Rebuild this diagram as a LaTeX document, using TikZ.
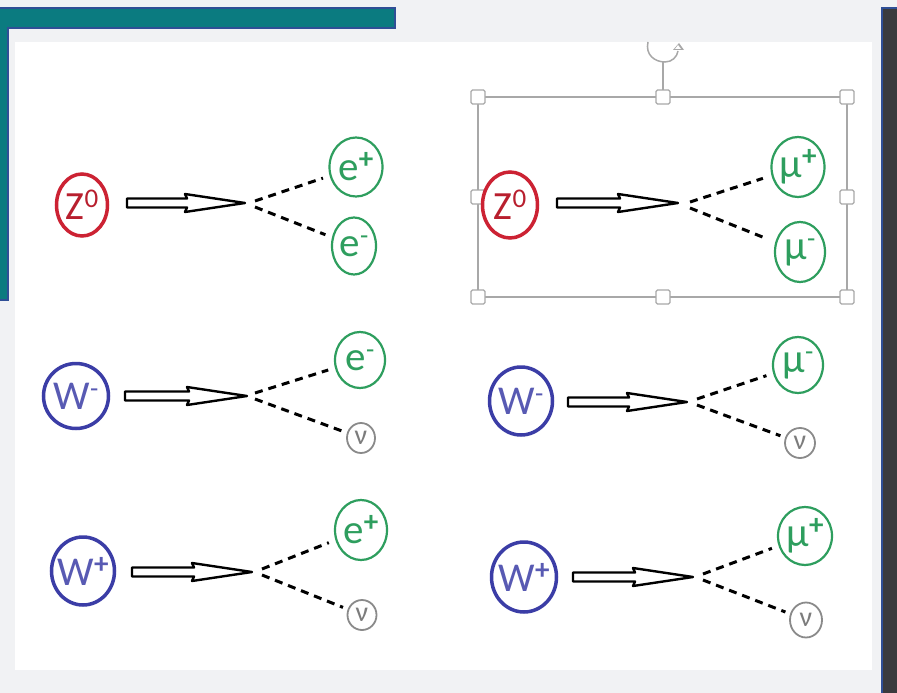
\documentclass[tikz,border=0pt]{standalone}
\usepackage{fontspec}
\setmainfont{Carlito}
\usetikzlibrary{shapes.geometric,calc}
\definecolor{bg}{HTML}{F1F2F4}
\definecolor{teal0}{HTML}{0B7B80}
\definecolor{edgeblue}{HTML}{2F4F96}
\definecolor{darkbar}{HTML}{3A3B3E}
\definecolor{zred}{HTML}{CC2233}
\definecolor{wblue}{HTML}{3B3DA6}
\definecolor{lgreen}{HTML}{2E9E5E}
\definecolor{ngray}{HTML}{8A8A8A}
\definecolor{selgray}{HTML}{A8A8A8}
\newcommand\supr[1]{\raisebox{12pt}{\fontsize{27}{27}\selectfont #1}}
\newcommand\supp{\raisebox{12pt}{\fontsize{29}{29}\selectfont\bfseries +}}
\newcommand\ptl[7]{\node[#6, minimum width=#4pt, minimum height=#5pt, label={[#6lab]center:#7}] (#1) at (#2,#3) {};}
\newcommand\harrow[2]{\draw[hollow] let \p1=(#1),\p2=(#2) in
  (\x1,\y1+4.5pt) -- (\x2-58pt,\y1+4.5pt) -- (\x2-60pt,\y1+9pt) -- (\x2,\y1)
  -- (\x2-60pt,\y1-9pt) -- (\x2-58pt,\y1-4.5pt) -- (\x1,\y1-4.5pt) -- cycle;}
\tikzset{
  particle/.style={ellipse, inner sep=0pt, fill=white},
  zb/.style={particle, draw=zred, line width=3.5pt},
  zblab/.style={text=zred!90!black, font=\fontsize{40}{40}\selectfont},
  wb/.style={particle, draw=wblue, line width=3.5pt},
  wblab/.style={text=wblue!85!white, font=\fontsize{41}{41}\selectfont},
  lep/.style={particle, draw=lgreen, line width=2.2pt},
  leplab/.style={text=lgreen, font=\fontsize{41}{41}\selectfont},
  nu/.style={particle, draw=ngray, line width=1.8pt},
  nulab/.style={text=ngray!90!black, font=\fontsize{28}{28}\selectfont},
  hollow/.style={draw=black, fill=white, line width=2.4pt, line join=round},
  dashln/.style={draw=black, line width=3pt, dash pattern=on 8pt off 6pt},
  handle/.style={draw=selgray, fill=white, line width=1.3pt, rounded corners=1.5pt}
}
\begin{document}
\begin{tikzpicture}[x=1pt,y=-1pt]
\useasboundingbox (0,0) rectangle (897,693);
% backgrounds
\fill[bg] (0,0) rectangle (897,693);
\fill[white] (15,42) rectangle (872,670);
\draw[fill=teal0, draw=edgeblue, line width=1.5pt]
  (-2,8) -- (395,8) -- (395,28) -- (8,28) -- (8,300) -- (-2,300) -- cycle;
\draw[fill=darkbar, draw=edgeblue, line width=1.5pt] (882,8) rectangle (900,700);
% selection box with rotation handle
\draw[selgray, line width=1.3pt] (478,97) rectangle (847,297);
\draw[selgray, line width=1.3pt] (663,62) -- (663,97);
\draw[selgray, line width=1.5pt] (648,42) .. controls (645,55) and (655,62) .. (665,62)
  .. controls (672,62) and (677,57) .. (678,51);
\fill[selgray] (673,50) -- (684,50) -- (679,43) -- cycle;
\fill[white] (675,49) -- (681,49) -- (678,45) -- cycle;
\foreach \hx/\hy in {478/97,663/97,847/97,478/197,847/197,478/297,663/297,847/297}
  \draw[handle] (\hx-7,\hy-7) rectangle (\hx+7,\hy+7);
% ---- diagram A: Z0 -> e+ e-
\ptl{za}{82}{205}{51}{62}{zb}{Z\supr{0}}
\ptl{ea1}{356}{167}{53}{59}{lep}{e\supp}
\ptl{ea2}{354}{246}{44}{57}{lep}{e\supr{-}}
\coordinate (sa) at (127,203); \coordinate (ta) at (245,203); \coordinate (va) at (255,204);
\harrow{sa}{ta}
\draw[dashln, shorten >=7pt] ($(va)+(0,-3)$) -- (ea1);
\draw[dashln, shorten >=7pt] ($(va)+(0,3)$) -- (ea2);
% ---- diagram B: Z0 -> mu+ mu-
\ptl{zb2}{510}{205}{55}{66}{zb}{Z\supr{0}}
\ptl{mb1}{798}{167}{53}{60}{lep}{μ\supp}
\ptl{mb2}{800}{252}{50}{60}{lep}{μ\supr{-}}
\coordinate (sb) at (557,203); \coordinate (tb) at (678,203); \coordinate (vb) at (690,205);
\harrow{sb}{tb}
\draw[dashln, shorten >=9pt] ($(vb)+(0,-3)$) -- (mb1);
\draw[dashln, shorten >=9pt] ($(vb)+(0,3)$) -- (mb2);
% ---- diagram C: W- -> e- nu
\ptl{wc}{76}{396}{65}{65}{wb}{W\supr{-}}
\ptl{ec}{360}{360}{50}{56}{lep}{e\supr{-}}
\ptl{nc}{361}{438}{28}{30}{nu}{ν}
\coordinate (sc) at (125,396); \coordinate (tc) at (247,396); \coordinate (vc) at (255,396);
\harrow{sc}{tc}
\draw[dashln, shorten >=7pt] ($(vc)+(0,-3)$) -- (ec);
\draw[dashln, shorten >=5pt] ($(vc)+(0,3)$) -- (nc);
% ---- diagram D: W+ -> e+ nu
\ptl{wd}{83}{571}{63}{68}{wb}{W\supp}
\ptl{ed}{361}{530}{52}{60}{lep}{e\supp}
\ptl{nd}{362}{615}{29}{30}{nu}{ν}
\coordinate (sd) at (132,572); \coordinate (td) at (252,572); \coordinate (vd) at (262,572);
\harrow{sd}{td}
\draw[dashln, shorten >=7pt] ($(vd)+(0,-3)$) -- (ed);
\draw[dashln, shorten >=5pt] ($(vd)+(0,3)$) -- (nd);
% ---- diagram E: W- -> mu- nu
\ptl{we}{521}{401}{63}{68}{wb}{W\supr{-}}
\ptl{me}{798}{365}{50}{56}{lep}{μ\supr{-}}
\ptl{ne}{800}{443}{30}{30}{nu}{ν}
\coordinate (se) at (568,402); \coordinate (te) at (687,402); \coordinate (ve) at (697,402);
\harrow{se}{te}
\draw[dashln, shorten >=7pt] ($(ve)+(0,-3)$) -- (me);
\draw[dashln, shorten >=5pt] ($(ve)+(0,3)$) -- (ne);
% ---- diagram F: W+ -> mu+ nu
\ptl{wf}{524}{577}{65}{70}{wb}{W\supp}
\ptl{mf}{805}{536}{54}{58}{lep}{μ\supp}
\ptl{nf}{806}{620}{32}{35}{nu}{ν}
\coordinate (sf) at (573,577); \coordinate (tf) at (693,577); \coordinate (vf) at (703,577);
\harrow{sf}{tf}
\draw[dashln, shorten >=7pt] ($(vf)+(0,-3)$) -- (mf);
\draw[dashln, shorten >=5pt] ($(vf)+(0,3)$) -- (nf);
\end{tikzpicture}
\end{document}
